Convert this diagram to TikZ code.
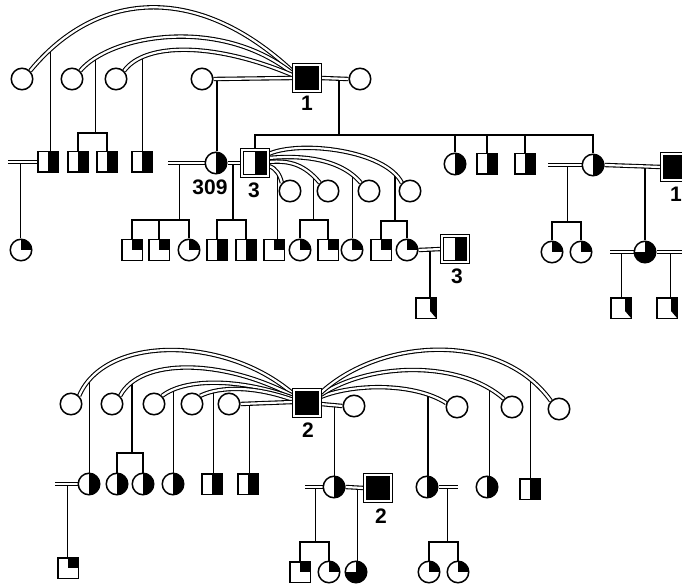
\documentclass[tikz,border=0pt]{standalone}
\usepackage{fontspec}
\setmainfont{Liberation Sans}
\usetikzlibrary{calc}
\pgfdeclarelayer{paper}
\pgfdeclarelayer{lines}
\pgfdeclarelayer{couples}
\pgfsetlayers{paper,lines,couples,main}
\begin{document}
\begin{tikzpicture}[x=1pt,y=-1pt,
  every node/.style={inner sep=0pt},
  fem/.style={circle, draw, line width=1.5pt, minimum size=21.5pt, fill=white},
  mal/.style={rectangle, draw, line width=1.5pt, minimum size=20.5pt, fill=white},
  idx/.style={rectangle, draw, double, double distance=2.2pt, line width=1.2pt, minimum size=26pt, fill=white},
  full/.style={fill=black},
  hR/.style={path picture={\fill[black] (path picture bounding box.north) rectangle (path picture bounding box.south east);}},
  qUR/.style={path picture={\fill[black] (path picture bounding box.center) rectangle (path picture bounding box.north east);}},
  q3/.style={path picture={\fill[black] (path picture bounding box.west) rectangle (path picture bounding box.south east);
      \fill[black] (path picture bounding box.center) rectangle (path picture bounding box.north east);}},
  strip/.style={path picture={\fill[black] ([xshift=4pt]path picture bounding box.north) -- (path picture bounding box.north east)
      -- (path picture bounding box.south east) -- ([xshift=4pt,yshift=-3pt]path picture bounding box.center) -- cycle;}},
  lbl/.style={font=\bfseries\fontsize{21}{21}\selectfont},
  dbl/.style={draw, double, double distance=2.2pt, line width=1.1pt},
  ln/.style={line width=1.3pt},
]
\useasboundingbox (0,0) rectangle (682,585);
\begin{pgfonlayer}{paper}
  \fill[white] (0,0) rectangle (682,585);
\end{pgfonlayer}

% ---------- upper family: generation I ----------
\node[fem] (a1) at (22,79) {};
\node[fem] (a2) at (72,79) {};
\node[fem] (a3) at (116,79) {};
\node[fem] (a4) at (202,79) {};
\node[idx,full] (M1) at (307,78) {};
\node[fem] (a5) at (360,79) {};
\node[lbl] (l1) at (307,103) {1};

% ---------- generation II ----------
\node[mal,hR] (b1) at (48,162) {};
\node[mal,hR] (b2) at (78,162) {};
\node[mal,hR] (b3) at (107,162) {};
\node[mal,hR] (b4) at (142,162) {};
\node[fem,hR] (b5) at (216,163) {};
\node[lbl] (l309) at (210,187) {309};
\node[idx,hR] (M3) at (255,163) {};
\node[lbl] (l3) at (254,190) {3};
\node[fem,hR] (b6) at (455,164) {};
\node[mal,hR] (b7) at (487,164) {};
\node[mal,hR] (b8) at (525,164) {};
\node[fem,hR] (b9) at (593,165) {};
\node[idx,full] (M1b) at (675,167) {};
\node[lbl] (l1b) at (676,194) {1};

\node[fem] (d1) at (290,191) {};
\node[fem] (d2) at (328,191) {};
\node[fem] (d3) at (369,191) {};
\node[fem] (d4) at (410,191) {};

% ---------- generation III ----------
\node[fem,qUR] (c1) at (21,250) {};
\node[mal,qUR] (c2) at (132,250) {};
\node[mal,qUR] (c3) at (159,250) {};
\node[fem,qUR] (c4) at (189,250) {};
\node[mal,hR] (c5) at (217,250) {};
\node[mal,hR] (c6) at (246,250) {};
\node[mal,qUR] (c7) at (274,250) {};
\node[fem,qUR] (c8) at (300,250) {};
\node[mal,qUR] (c9) at (328,250) {};
\node[fem,qUR] (c10) at (352,250) {};
\node[mal,qUR] (c11) at (381,250) {};
\node[fem,qUR] (c12) at (407,250) {};
\node[idx,hR] (M3b) at (455,249) {};
\node[lbl] (l3b) at (457,276) {3};
\node[fem,qUR] (c13) at (552,252) {};
\node[fem,qUR] (c14) at (581,252) {};
\node[fem,q3] (c15) at (645,252) {};

% ---------- generation IV ----------
\node[mal,strip] (e1) at (426,308) {};
\node[mal,strip] (e2) at (621,308) {};
\node[mal,strip] (e3) at (667,308) {};

% ---------- lower family ----------
\node[fem] (f1) at (71,404) {};
\node[fem] (f2) at (112,404) {};
\node[fem] (f3) at (154,404) {};
\node[fem] (f4) at (192,404) {};
\node[fem] (f5) at (229,404) {};
\node[idx,full] (M2) at (307,403) {};
\node[lbl] (l2) at (308,430) {2};
\node[fem] (g1) at (354,406) {};
\node[fem] (g2) at (457,407) {};
\node[fem] (g3) at (512,407) {};
\node[fem] (g4) at (559,409) {};

\node[fem,hR] (k1) at (89,484) {};
\node[fem,hR] (k3) at (117,484) {};
\node[fem,hR] (k4) at (143,484) {};
\node[fem,hR] (k5) at (173,484) {};
\node[mal,hR] (k6) at (212,484) {};
\node[mal,hR] (k7) at (248,484) {};
\node[mal,qUR] (k2) at (68,568) {};
\node[fem,hR] (h1) at (334,487) {};
\node[idx,full] (M2b) at (378,488) {};
\node[lbl] (l2b) at (381,516) {2};
\node[fem,hR] (h2) at (427,487) {};
\node[fem,hR] (h3) at (487,487) {};
\node[mal,hR] (h4) at (530,489) {};
\node[mal,qUR] (n1) at (300,572) {};
\node[fem,qUR] (n2) at (329,572) {};
\node[fem,q3] (n3) at (356,572) {};
\node[fem,qUR] (n4) at (429,572) {};
\node[fem,qUR] (n5) at (458,572) {};

% free ends of marriage lines
\coordinate (L1) at (8,162);
\coordinate (L2) at (168,163);
\coordinate (L3) at (548,165);
\coordinate (L4) at (610,252);
\coordinate (R4) at (682,252);
\coordinate (L5) at (55,484);
\coordinate (L6) at (305,487);
\coordinate (R7) at (458,487);

% ---------- marriages and arcs (double lines) ----------
\begin{pgfonlayer}{couples}
\draw[dbl] (a1.45) .. controls (95,-8) and (195,-20) .. coordinate[pos=0.1] (p1) ([yshift=6pt]M1.west);
\draw[dbl] (a2.45) .. controls (110,35) and (220,15) .. coordinate[pos=0.13] (p2) ([yshift=4pt]M1.west);
\draw[dbl] (a3.45) .. controls (145,42) and (215,42) .. coordinate[pos=0.2] (p3) ([yshift=2.5pt]M1.west);
\draw[dbl] (a4.east) -- coordinate[pos=0.045] (u1) (M1.west);
\draw[dbl] (M1.east) -- coordinate[pos=0.66] (u0) (a5.west);

\draw[dbl] (L1) -- coordinate[pos=0.44] (u2) (b1.west);
\draw[dbl] (L2) -- coordinate[pos=0.32] (u3) (b5.west);
\draw[dbl] (b5.east) -- coordinate[pos=0.4] (u4) (M3.west);
\draw[dbl] ([yshift=9pt]M3.east) .. controls (300,140) and (385,150) .. coordinate[pos=0.9] (p7) (d4.135);
\draw[dbl] ([yshift=5pt]M3.east) .. controls (300,155) and (340,158) .. coordinate[pos=0.88] (p6) (d3.135);
\draw[dbl] ([yshift=1pt]M3.east) .. controls (290,160) and (305,165) .. coordinate[pos=0.86] (p5) (d2.135);
\draw[dbl] ([yshift=-3pt]M3.east) .. controls (276,168) and (280,175) .. coordinate[pos=0.5] (p4) (d1.135);
\draw[dbl] (c12.east) -- coordinate[pos=0.5] (u5) (M3b.west);
\draw[dbl] (L3) -- coordinate[pos=0.59] (u6) (b9.west);
\draw[dbl] (b9.east) -- coordinate[pos=0.71] (u7) (M1b.west);
\draw[dbl] (L4) -- coordinate[pos=0.5] (u8) (c15.west);
\draw[dbl] (c15.east) -- coordinate[pos=0.54] (u9) (R4);

\draw[dbl] (f1.45) .. controls (105,335) and (225,335) .. coordinate[pos=0.1] (q1) ([yshift=9pt]M2.west);
\draw[dbl] (f2.45) .. controls (140,358) and (221,358) .. coordinate[pos=0.14] (q2) ([yshift=7pt]M2.west);
\draw[dbl] (f3.45) .. controls (185,378) and (240,378) .. coordinate[pos=0.14] (q3) ([yshift=5pt]M2.west);
\draw[dbl] (f4.45) .. controls (220,386) and (255,386) .. coordinate[pos=0.2] (q4) ([yshift=3pt]M2.west);
\draw[dbl] (f5.east) -- coordinate[pos=0.17] (q5) ([yshift=1pt]M2.west);
\draw[dbl] ([yshift=-1pt]M2.east) -- coordinate[pos=0.65] (q6) (g1.west);
\draw[dbl] ([yshift=6pt]M2.east) .. controls (355,383) and (415,383) .. coordinate[pos=0.83] (q7) (g2.160);
\draw[dbl] ([yshift=8pt]M2.east) .. controls (370,362) and (460,360) .. coordinate[pos=0.9] (q8) (g3.135);
\draw[dbl] ([yshift=10pt]M2.east) .. controls (380,338) and (500,330) .. coordinate[pos=0.885] (q9) (g4.135);

\draw[dbl] (L5) -- coordinate[pos=0.57] (u10) (k1.west);
\draw[dbl] (L6) -- coordinate[pos=0.61] (u11) (h1.west);
\draw[dbl] (h1.east) -- coordinate[pos=0.65] (u12) (M2b.west);
\draw[dbl] (h2.east) -- coordinate[pos=0.45] (u13) (R7);
\end{pgfonlayer}

% ---------- lines of descent ----------
\coordinate (tw1) at (94,133);
\coordinate (s6) at (339,135);
\coordinate (s1) at (180,220);
\coordinate (s2) at (233,220);
\coordinate (s3) at (314,220);
\coordinate (s4) at (395,221);
\coordinate (s5) at (568,222);
\coordinate (tw2) at (132,453);
\coordinate (s7) at (316,542);
\coordinate (s8) at (447,542);

\begin{pgfonlayer}{lines}
\draw[ln] (p1) -- (p1 |- b1.north);
\draw[ln] (p2) -- (p2 |- tw1);
\draw[ln] (b2.north) |- (tw1) -| (b3.north);
\draw[ln] (p3) -- (p3 |- b4.north);
\draw[ln] (u1) -- (u1 |- b5.north);
\draw[ln] (u0) -- (u0 |- s6);
\draw[ln] (M3.north) |- (s6) -| (b9.north);
\draw[ln] (b6.north) -- (b6.north |- s6);
\draw[ln] (b7.north) -- (b7.north |- s6);
\draw[ln] (b8.north) -- (b8.north |- s6);

\draw[ln] (u2) -- (u2 |- c1.north);
\draw[ln] (u3) -- (u3 |- s1);
\draw[ln] (c2.north) |- (s1) -| (c4.north);
\draw[ln] (c3.north) -- (c3.north |- s1);
\draw[ln] (u4) -- (u4 |- s2);
\draw[ln] (c5.north) |- (s2) -| (c6.north);
\draw[ln] (p4) -- (p4 |- c7.north);
\draw[ln] (p5) -- (p5 |- s3);
\draw[ln] (c8.north) |- (s3) -| (c9.north);
\draw[ln] (p6) -- (p6 |- c10.north);
\draw[ln] (p7) -- (p7 |- s4);
\draw[ln] (c11.north) |- (s4) -| (c12.north);
\draw[ln] (u5) -- (u5 |- e1.north);
\draw[ln] (u6) -- (u6 |- s5);
\draw[ln] (c13.north) |- (s5) -| (c14.north);
\draw[ln] (u7) -- (u7 |- c15.north);
\draw[ln] (u8) -- (u8 |- e2.north);
\draw[ln] (u9) -- (u9 |- e3.north);

\draw[ln] (q1) -- (q1 |- k1.north);
\draw[ln] (q2) -- (q2 |- tw2);
\draw[ln] (k3.north) |- (tw2) -| (k4.north);
\draw[ln] (q3) -- (q3 |- k5.north);
\draw[ln] (q4) -- (q4 |- k6.north);
\draw[ln] (q5) -- (q5 |- k7.north);
\draw[ln] (q6) -- (q6 |- h1.north);
\draw[ln] (q7) -- (q7 |- h2.north);
\draw[ln] (q8) -- (q8 |- h3.north);
\draw[ln] (q9) -- (q9 |- h4.north);
\draw[ln] (u10) -- (u10 |- k2.north);
\draw[ln] (u11) -- (u11 |- s7);
\draw[ln] (n1.north) |- (s7) -| (n2.north);
\draw[ln] (u12) -- (u12 |- n3.north);
\draw[ln] (u13) -- (u13 |- s8);
\draw[ln] (n4.north) |- (s8) -| (n5.north);
\end{pgfonlayer}
\end{tikzpicture}
\end{document}
